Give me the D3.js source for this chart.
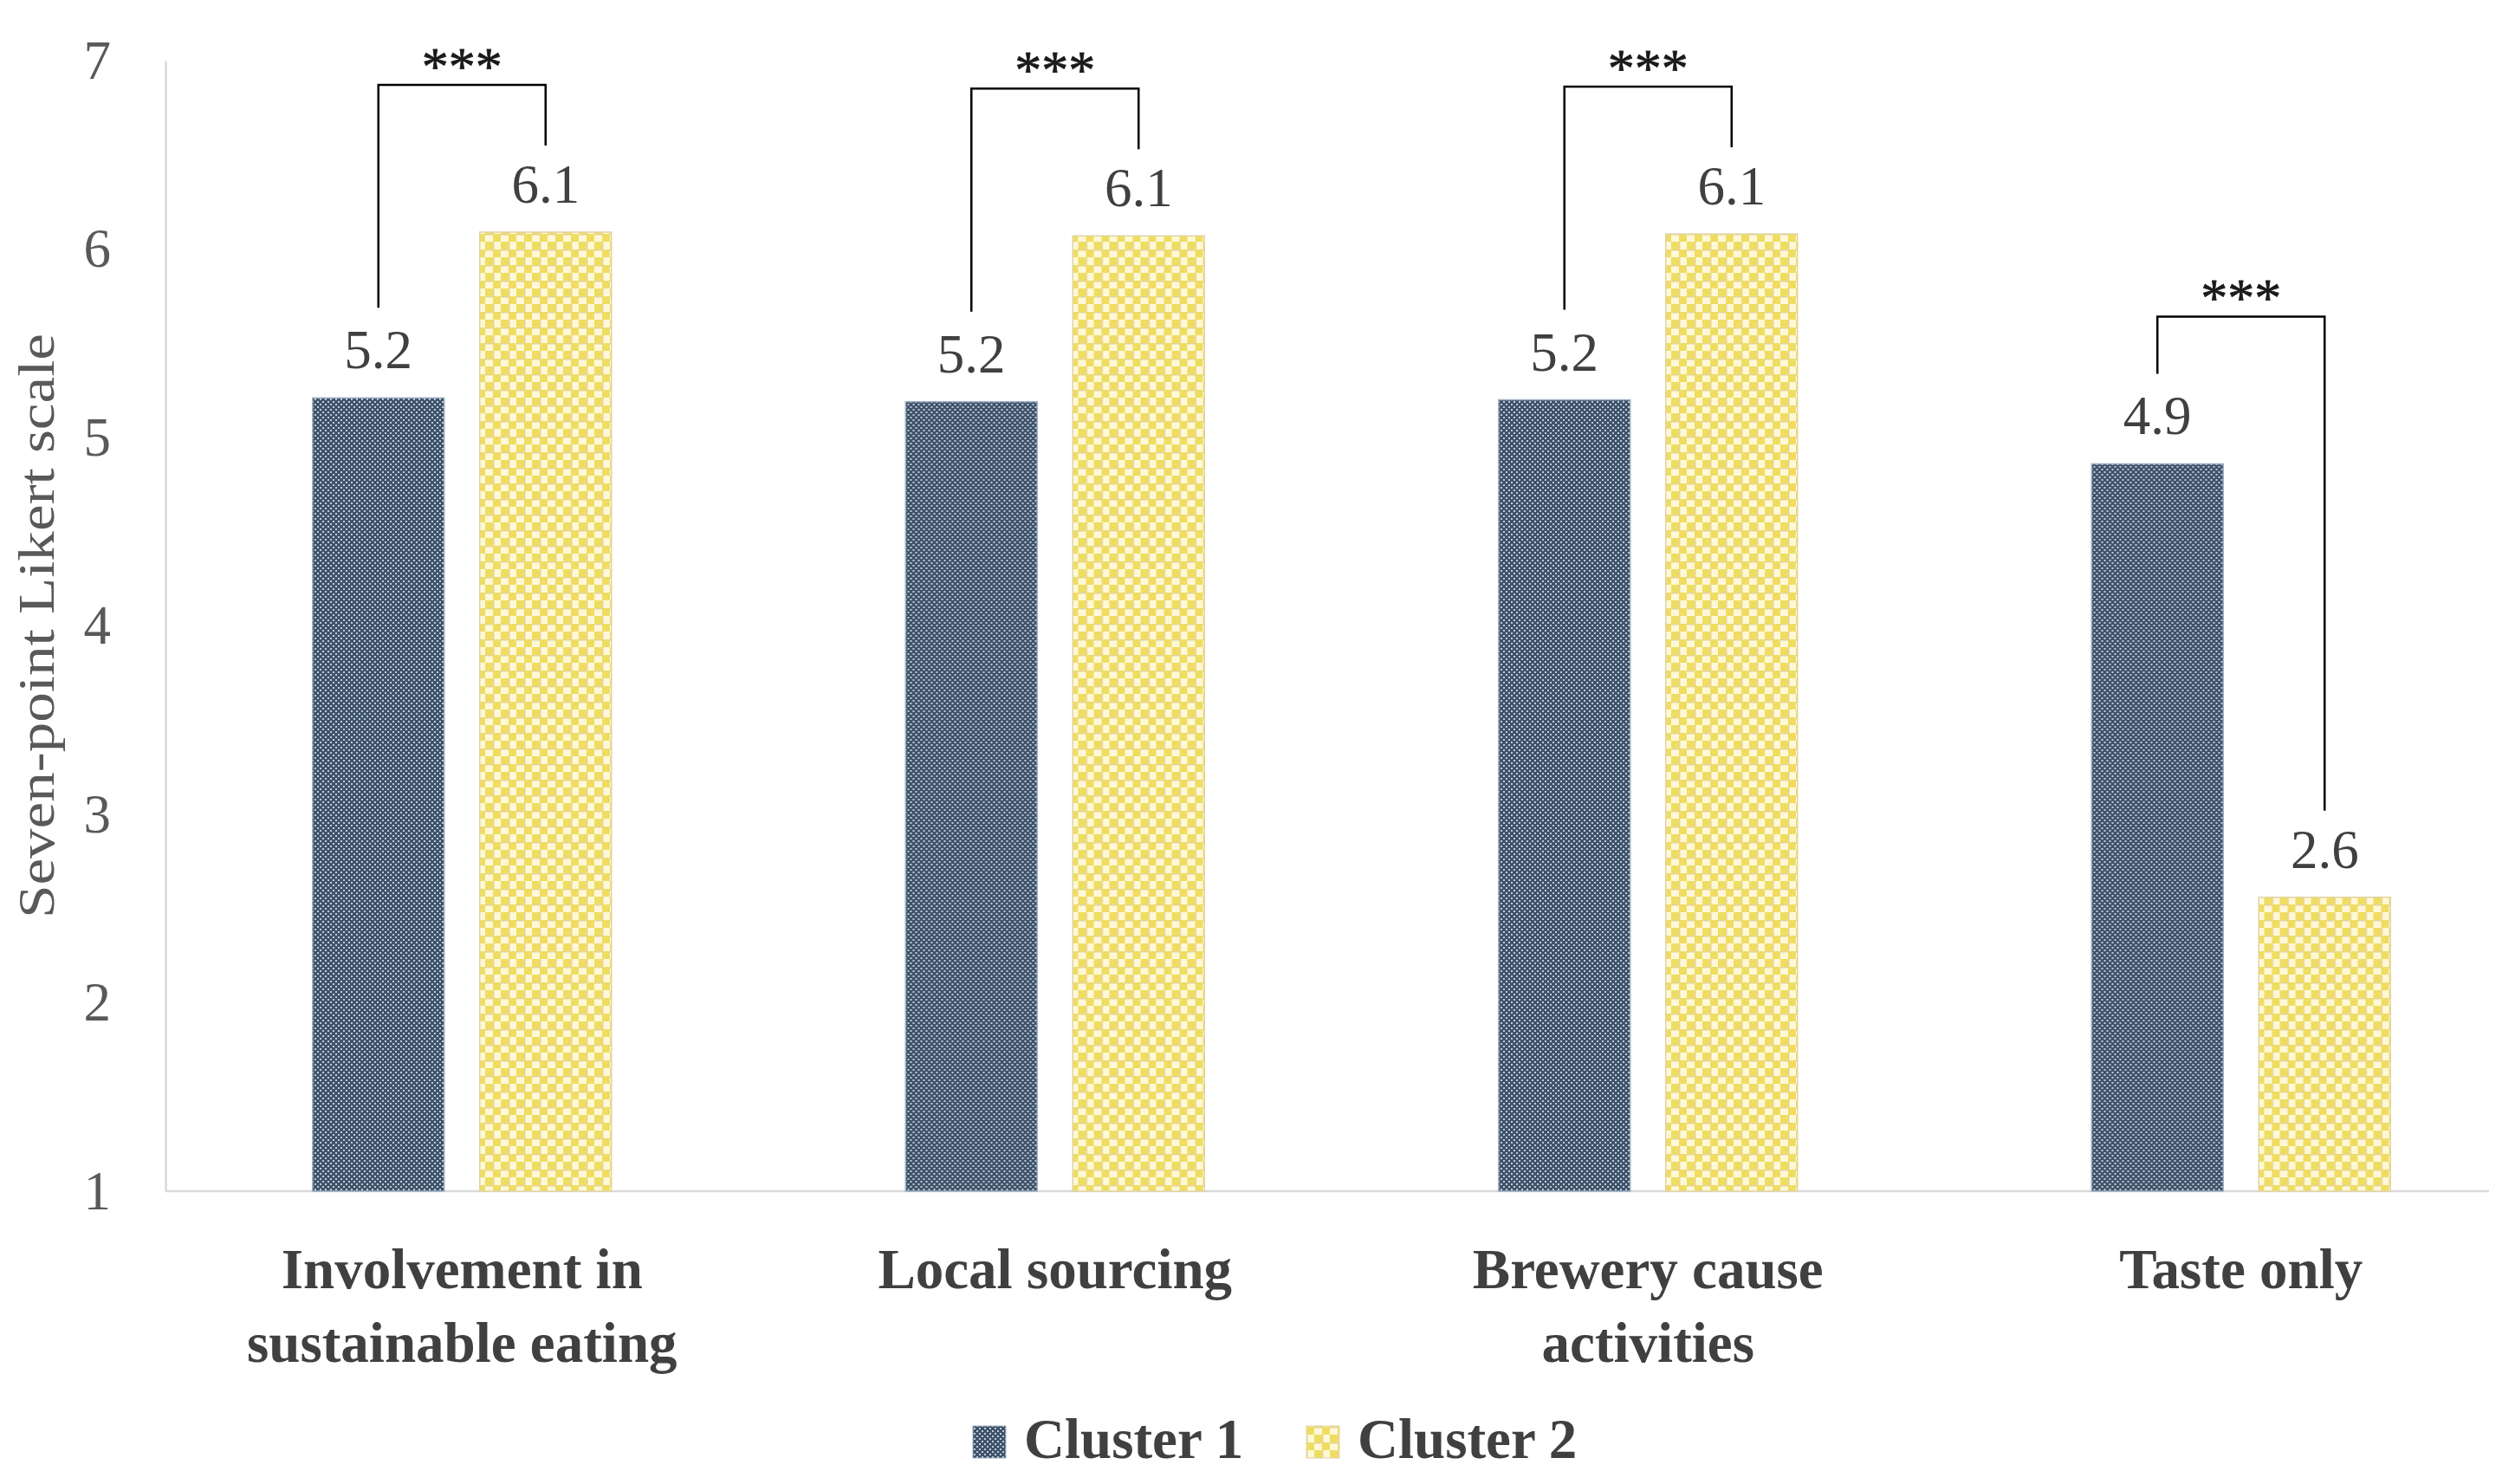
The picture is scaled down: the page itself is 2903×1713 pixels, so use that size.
<!DOCTYPE html>
<html>
<head>
<meta charset="utf-8">
<script src="https://cdn.jsdelivr.net/npm/d3@7"></script>
<style>
  body { margin: 0; background: #ffffff; }
</style>
</head>
<body>
<div id="chart"></div>
<script>
// chart values
let categories = ["Involvement in sustainable eating", "Local sourcing", "Brewery cause activities", "Taste only"];
let categoryLines = [["Involvement in", "sustainable eating"], ["Local sourcing"], ["Brewery cause", "activities"], ["Taste only"]];
let seriesNames = ["Cluster 1", "Cluster 2"];
let cluster1 = [5.21, 5.19, 5.20, 4.86];
let cluster2 = [6.09, 6.07, 6.08, 2.56];
let significance = ["***", "***", "***", "***"];
let yTicks = [1, 2, 3, 4, 5, 6, 7];

let svgWidth = 2903;
let svgHeight = 1713;

let chartMargin = {
    top: 70,
    right: -26,
    bottom: 338,
    left: 191
};

let chartWidth = svgWidth - chartMargin.left - chartMargin.right;
let chartHeight = svgHeight - chartMargin.top - chartMargin.bottom;

let serif = "'Liberation Serif', 'Times New Roman', serif";

let svg = d3
    .select("#chart")
    .append("svg")
    .attr("width", svgWidth)
    .attr("height", svgHeight);

svg.append("rect")
    .attr("width", svgWidth)
    .attr("height", svgHeight)
    .attr("fill", "#ffffff");

// hatch patterns like the excel fills
let defs = svg.append("defs");

let p1 = defs.append("pattern")
    .attr("id", "pat1")
    .attr("patternUnits", "userSpaceOnUse")
    .attr("width", 6)
    .attr("height", 6);
p1.append("rect").attr("width", 6).attr("height", 6).attr("fill", "#3f5369");
p1.append("rect").attr("x", 1).attr("y", 1).attr("width", 2).attr("height", 2).attr("fill", "#bccbdb");
p1.append("rect").attr("x", 4).attr("y", 4).attr("width", 2).attr("height", 2).attr("fill", "#bccbdb");

let p2 = defs.append("pattern")
    .attr("id", "pat2")
    .attr("patternUnits", "userSpaceOnUse")
    .attr("width", 18)
    .attr("height", 18);
p2.append("rect").attr("width", 18).attr("height", 18).attr("fill", "#fff8d8");
p2.append("rect").attr("width", 9).attr("height", 9).attr("fill", "#efdd62");
p2.append("rect").attr("x", 9).attr("y", 9).attr("width", 9).attr("height", 9).attr("fill", "#efdd62");
p2.append("rect").attr("x", 9).attr("y", 0).attr("width", 9).attr("height", 1.5).attr("fill", "#e6d39c");
p2.append("rect").attr("x", 0).attr("y", 9).attr("width", 1.5).attr("height", 9).attr("fill", "#e6d39c");

let fills = ["url(#pat1)", "url(#pat2)"];
let edges = ["#9fb0c2", "#e2d3a4"];

// scales
let xScale = d3.scaleBand()
    .domain(categories)
    .range([chartMargin.left, chartMargin.left + chartWidth]);

let xInner = d3.scaleBand()
    .domain(seriesNames)
    .range([0, xScale.bandwidth()])
    .paddingInner(0.2124)
    .paddingOuter(0.8795);

let yScale = d3.scaleLinear()
    .domain([1, 7])
    .range([chartMargin.top + chartHeight, chartMargin.top]);

// y axis
let yaxis = svg.append("g")
    .attr("transform", `translate(${chartMargin.left}, 0)`)
    .call(d3.axisLeft(yScale)
        .tickValues(yTicks)
        .tickFormat(d3.format("d"))
        .tickSize(0)
        .tickSizeOuter(0)
        .tickPadding(63));

yaxis.select(".domain")
    .attr("stroke", "#d9d9d9")
    .attr("stroke-width", 2.5);

yaxis.selectAll("text")
    .attr("font-family", serif)
    .attr("font-size", 63)
    .attr("fill", "#595959");

svg.append("text")
    .attr("transform", `translate(62, ${(yScale(1) + yScale(7)) / 2}) rotate(-90)`)
    .attr("text-anchor", "middle")
    .attr("font-family", serif)
    .attr("font-size", 59)
    .attr("fill", "#595959")
    .attr("textLength", 675)
    .attr("lengthAdjust", "spacingAndGlyphs")
    .text("Seven-point Likert scale");

// x baseline
svg.append("line")
    .attr("x1", chartMargin.left)
    .attr("x2", svgWidth - 30)
    .attr("y1", yScale(1))
    .attr("y2", yScale(1))
    .attr("stroke", "#d9d9d9")
    .attr("stroke-width", 2.5);

// bars
let rows = categories.map((c, i) => ({
    category: c,
    values: [cluster1[i], cluster2[i]],
    sig: significance[i],
    lines: categoryLines[i]
}));

let groups = svg.selectAll(".group")
    .data(rows)
    .enter()
    .append("g")
    .attr("class", "group")
    .attr("transform", d => `translate(${xScale(d.category)}, 0)`);

groups.selectAll("rect")
    .data(d => d.values.map((v, j) => ({ series: seriesNames[j], value: v, idx: j })))
    .enter()
    .append("rect")
    .attr("x", d => xInner(d.series))
    .attr("y", d => yScale(d.value))
    .attr("width", xInner.bandwidth())
    .attr("height", d => yScale(1) - yScale(d.value))
    .attr("fill", d => fills[d.idx])
    .attr("stroke", d => edges[d.idx])
    .attr("stroke-width", 1.5);

// value labels
groups.selectAll(".valueLabel")
    .data(d => d.values.map((v, j) => ({ series: seriesNames[j], value: v })))
    .enter()
    .append("text")
    .attr("class", "valueLabel")
    .attr("x", d => xInner(d.series) + xInner.bandwidth() / 2)
    .attr("y", d => yScale(d.value) - 34)
    .attr("text-anchor", "middle")
    .attr("font-family", serif)
    .attr("font-size", 63)
    .attr("fill", "#404040")
    .text(d => d3.format(".1f")(d.value));

// significance brackets
groups.each(function(d) {
    let g = d3.select(this);
    let xl = xInner(seriesNames[0]) + xInner.bandwidth() / 2;
    let xr = xInner(seriesNames[1]) + xInner.bandwidth() / 2;
    let top = yScale(d3.max(d.values)) - 170;
    let path = d3.path();
    path.moveTo(xl, yScale(d.values[0]) - 104);
    path.lineTo(xl, top);
    path.lineTo(xr, top);
    path.lineTo(xr, yScale(d.values[1]) - 100);
    g.append("path")
        .attr("d", path.toString())
        .attr("fill", "none")
        .attr("stroke", "#000000")
        .attr("stroke-width", 2.5);
    g.append("text")
        .attr("x", (xl + xr) / 2)
        .attr("y", top - 1)
        .attr("text-anchor", "middle")
        .attr("font-family", serif)
        .attr("font-size", 62)
        .attr("fill", "#1a1a1a")
        .attr("stroke", "#1a1a1a")
        .attr("stroke-width", 0.8)
        .text(d.sig);
});

// category labels
let catLabels = groups.append("text")
    .attr("text-anchor", "middle")
    .attr("font-family", serif)
    .attr("font-size", 65)
    .attr("font-weight", "bold")
    .attr("fill", "#404040");

catLabels.selectAll("tspan")
    .data(d => d.lines)
    .enter()
    .append("tspan")
    .attr("x", xScale.bandwidth() / 2)
    .attr("y", (d, i) => yScale(1) + 112 + i * 85)
    .text(d => d);

// legend
let legend = svg.append("g")
    .attr("transform", "translate(1123, 1683)");

let legendItems = legend.selectAll(".legendItem")
    .data(seriesNames)
    .enter()
    .append("g")
    .attr("class", "legendItem")
    .attr("transform", (d, i) => `translate(${i * 385}, 0)`);

legendItems.append("rect")
    .attr("x", 0)
    .attr("y", -37)
    .attr("width", 38)
    .attr("height", 37)
    .attr("fill", (d, i) => fills[i])
    .attr("stroke", (d, i) => edges[i])
    .attr("stroke-width", 1);

legendItems.append("text")
    .attr("x", 59)
    .attr("y", 0)
    .attr("font-family", serif)
    .attr("font-size", 65)
    .attr("font-weight", "bold")
    .attr("fill", "#404040")
    .text(d => d);
</script>
</body>
</html>
